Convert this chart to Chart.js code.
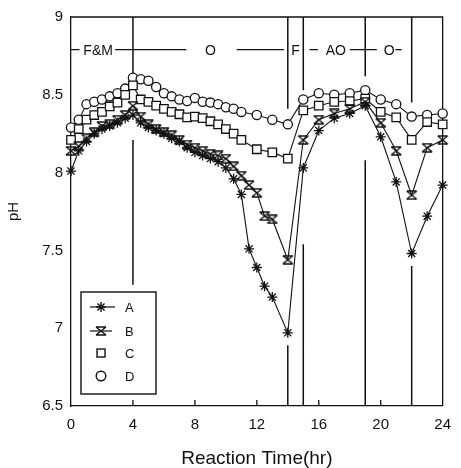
<!DOCTYPE html>
<html>
<head>
<meta charset="utf-8">
<script src="https://cdn.jsdelivr.net/npm/chart.js@4.4.1/dist/chart.umd.min.js"></script>
<style>
  html, body { margin: 0; padding: 0; background: #fff; }
  #wrap { width: 461px; height: 468px; }
</style>
</head>
<body>
<div id="wrap"><canvas id="ph"></canvas></div>
<script>
// Reaction time (hr) of each sample
var hoursAB = [0, 0.5, 1, 1.5, 2, 2.5, 3, 3.5, 4, 4.5, 5, 5.5, 6, 6.5, 7, 7.5, 8, 8.5, 9, 9.5,
  10, 10.5, 11, 11.5, 12, 12.5, 13, 14, 15, 16, 17, 18, 19, 20, 21, 22, 23, 24];
var hoursCD = [0, 0.5, 1, 1.5, 2, 2.5, 3, 3.5, 4, 4.5, 5, 5.5, 6, 6.5, 7, 7.5, 8, 8.5, 9, 9.5,
  10, 10.5, 11, 12, 13, 14, 15, 16, 17, 18, 19, 20, 21, 22, 23, 24];

// pH readings
var phA = [8.01, 8.14, 8.20, 8.25, 8.28, 8.30, 8.32, 8.35, 8.37, 8.32, 8.29, 8.27, 8.25, 8.22, 8.20, 8.16, 8.13, 8.11, 8.09, 8.07,
  8.03, 7.96, 7.86, 7.51, 7.39, 7.27, 7.20, 6.97, 8.03, 8.27, 8.35, 8.38, 8.43, 8.23, 7.94, 7.48, 7.72, 7.92];
var phB = [8.14, 8.17, 8.22, 8.26, 8.30, 8.31, 8.34, 8.37, 8.43, 8.36, 8.31, 8.28, 8.26, 8.24, 8.21, 8.18, 8.16, 8.14, 8.12, 8.11,
  8.09, 8.04, 7.98, 7.92, 7.87, 7.72, 7.70, 7.44, 8.21, 8.34, 8.38, 8.41, 8.455, 8.32, 8.14, 7.855, 8.16, 8.21];
var phC = [8.21, 8.28, 8.34, 8.37, 8.39, 8.425, 8.45, 8.50, 8.56, 8.47, 8.455, 8.43, 8.41, 8.39, 8.375, 8.355, 8.36, 8.35, 8.33, 8.31,
  8.28, 8.25, 8.21, 8.15, 8.13, 8.09, 8.40, 8.43, 8.455, 8.46, 8.475, 8.39, 8.355, 8.21, 8.325, 8.31];
var phD = [8.29, 8.34, 8.44, 8.455, 8.47, 8.49, 8.51, 8.54, 8.61, 8.60, 8.59, 8.55, 8.51, 8.49, 8.47, 8.46, 8.48, 8.455, 8.45, 8.44,
  8.42, 8.41, 8.39, 8.37, 8.34, 8.31, 8.47, 8.51, 8.50, 8.51, 8.53, 8.47, 8.44, 8.36, 8.37, 8.38];

var seriesNames = ['A', 'B', 'C', 'D'];
var xTicks = [0, 4, 8, 12, 16, 20, 24];
var yTicks = [6.5, 7, 7.5, 8, 8.5, 9];

// operating phases along the top of the plot
var phaseLabels = ['F&M', 'O', 'F', 'AO', 'O'];
var phaseLabelAt = [1.75, 9, 14.5, 17.1, 20.55];
var phaseLineRuns = [[0, 0.55], [2.85, 7.45], [10.7, 13.75], [15.4, 15.95], [18.0, 19.75], [20.95, 21.35]];
var phaseLevel = 8.79;
// phase boundaries: [hour, [from pH, to pH], ...]
var phaseBounds = [
  [4, [9, 8.62], [8.21, 7.28]],
  [14, [9, 8.41], [6.89, 6.5]],
  [15, [9, 8.53], [7.54, 6.5]],
  [19, [9, 8.62], [8.08, 6.5]],
  [22, [9, 8.45], [7.40, 6.5]]
];

var INK = '#111';
var FONT = '"Liberation Sans", Arial, sans-serif';

function pts(hours, vals) {
  return hours.map(function (h, i) { return { x: h, y: vals[i] }; });
}

// bow-tie marker for series B
function hourglass() {
  var c = document.createElement('canvas');
  c.width = 12; c.height = 10;
  var g = c.getContext('2d');
  g.strokeStyle = INK; g.lineWidth = 1.4;
  g.beginPath();
  g.moveTo(1, 1); g.lineTo(11, 1);
  g.moveTo(1, 9); g.lineTo(11, 9);
  g.moveTo(1, 1); g.lineTo(11, 9);
  g.moveTo(11, 1); g.lineTo(1, 9);
  g.stroke();
  return c;
}
var bMark = hourglass();

function ds(label, data, style, radius) {
  return {
    label: label,
    data: data,
    borderColor: INK,
    borderWidth: 1.1,
    backgroundColor: '#fff',
    pointStyle: style,
    pointRadius: radius,
    pointBorderWidth: 1.3,
    pointBorderColor: INK,
    pointBackgroundColor: 'rgba(255,255,255,1)',
    tension: 0,
    fill: false,
    clip: false
  };
}

function star(ctx, x, y, r) {
  ctx.beginPath();
  for (var k = 0; k < 4; k++) {
    var a = k * Math.PI / 4;
    ctx.moveTo(x - Math.cos(a) * r, y - Math.sin(a) * r);
    ctx.lineTo(x + Math.cos(a) * r, y + Math.sin(a) * r);
  }
  ctx.stroke();
}

var decor = {
  id: 'decor',
  beforeDatasetsDraw: function (chart) {
    var ctx = chart.ctx, a = chart.chartArea;
    var xs = chart.scales.x, ys = chart.scales.y;
    ctx.save();
    ctx.strokeStyle = INK;
    ctx.lineWidth = 1.3;
    // top and right frame
    ctx.beginPath();
    ctx.moveTo(a.left, a.top); ctx.lineTo(a.right, a.top); ctx.lineTo(a.right, a.bottom);
    ctx.stroke();
    // inner ticks on the time axis
    ctx.beginPath();
    xTicks.slice(1, -1).forEach(function (t) {
      var px = xs.getPixelForValue(t);
      ctx.moveTo(px, a.bottom); ctx.lineTo(px, a.bottom - 6);
    });
    ctx.stroke();
    // phase boundaries
    ctx.lineWidth = 1.5;
    ctx.beginPath();
    phaseBounds.forEach(function (b) {
      var px = xs.getPixelForValue(b[0]);
      for (var k = 1; k < b.length; k++) {
        ctx.moveTo(px, ys.getPixelForValue(b[k][0]));
        ctx.lineTo(px, ys.getPixelForValue(b[k][1]));
      }
    });
    ctx.stroke();
    // phase line
    var py = ys.getPixelForValue(phaseLevel);
    ctx.lineWidth = 1.3;
    ctx.beginPath();
    phaseLineRuns.forEach(function (r) {
      ctx.moveTo(xs.getPixelForValue(r[0]), py);
      ctx.lineTo(xs.getPixelForValue(r[1]), py);
    });
    ctx.stroke();
    ctx.fillStyle = INK;
    ctx.font = '14px ' + FONT;
    ctx.textAlign = 'center';
    ctx.textBaseline = 'middle';
    phaseLabels.forEach(function (t, i) {
      ctx.fillText(t, xs.getPixelForValue(phaseLabelAt[i]), py + 1);
    });
    ctx.restore();
  },
  afterDraw: function (chart) {
    var ctx = chart.ctx;
    var bx = 81, by = 292, bw = 75, bh = 102;
    ctx.save();
    ctx.fillStyle = '#fff';
    ctx.fillRect(bx, by, bw, bh);
    ctx.strokeStyle = INK;
    ctx.lineWidth = 1.4;
    ctx.strokeRect(bx, by, bw, bh);
    var rows = [307, 331, 353, 376];
    var mx = 101;
    ctx.lineWidth = 1.2;
    // A
    ctx.beginPath(); ctx.moveTo(90, rows[0]); ctx.lineTo(115, rows[0]); ctx.stroke();
    ctx.lineWidth = 1.4;
    star(ctx, mx, rows[0], 5);
    // B
    ctx.lineWidth = 1.2;
    ctx.beginPath(); ctx.moveTo(90, rows[1]); ctx.lineTo(112, rows[1]); ctx.stroke();
    ctx.drawImage(bMark, mx - 6, rows[1] - 5);
    // C
    ctx.lineWidth = 1.4;
    ctx.strokeRect(mx - 4, rows[2] - 4, 8, 8);
    // D
    ctx.beginPath(); ctx.arc(mx, rows[3], 4.8, 0, Math.PI * 2); ctx.stroke();
    ctx.fillStyle = INK;
    ctx.font = '13px ' + FONT;
    ctx.textAlign = 'left';
    ctx.textBaseline = 'middle';
    seriesNames.forEach(function (n, i) { ctx.fillText(n, 125, rows[i] + 1); });
    ctx.restore();
  }
};

new Chart(document.getElementById('ph'), {
  type: 'line',
  data: {
    datasets: [
      ds(seriesNames[0], pts(hoursAB, phA), 'star', 5),
      ds(seriesNames[1], pts(hoursAB, phB), bMark, 5),
      ds(seriesNames[2], pts(hoursCD, phC), 'rect', 6),
      ds(seriesNames[3], pts(hoursCD, phD), 'circle', 4.6)
    ]
  },
  options: {
    responsive: true,
    maintainAspectRatio: false,
    animation: false,
    layout: { padding: { top: 14, right: 12, left: 0, bottom: 0 } },
    plugins: { legend: { display: false }, tooltip: { enabled: false } },
    scales: {
      x: {
        type: 'linear',
        min: 0, max: 24,
        afterBuildTicks: function (s) { s.ticks = xTicks.map(function (v) { return { value: v }; }); },
        afterFit: function (s) { s.height = 62; },
        grid: { display: false, drawTicks: false },
        border: { display: true, color: INK, width: 1.3 },
        ticks: { color: INK, padding: 10, font: { family: FONT, size: 15 } },
        title: { display: true, text: 'Reaction Time(hr)', color: INK, padding: 0,
          font: { family: FONT, size: 19, lineHeight: 1 } }
      },
      y: {
        min: 6.5, max: 9,
        afterBuildTicks: function (s) { s.ticks = yTicks.map(function (v) { return { value: v }; }); },
        afterFit: function (s) { s.width = 71; },
        grid: { display: false, drawTicks: false },
        border: { display: true, color: INK, width: 1.3 },
        ticks: { color: INK, padding: 8, font: { family: FONT, size: 15 },
          callback: function (v) { return String(v); } },
        title: { display: true, text: 'pH', color: INK, padding: { top: 5, bottom: 0 },
          font: { family: FONT, size: 15 } }
      }
    }
  },
  plugins: [decor]
});
</script>
</body>
</html>
